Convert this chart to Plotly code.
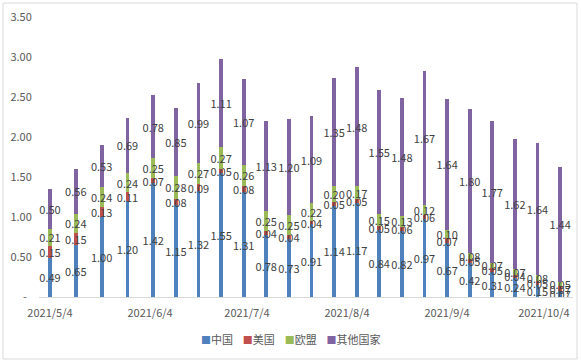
import plotly.graph_objects as go
from datetime import datetime, timedelta

dates = ["2021-05-04", "2021-05-12", "2021-05-20", "2021-05-28", "2021-06-05",
         "2021-06-12", "2021-06-19", "2021-06-26", "2021-07-03", "2021-07-10",
         "2021-07-17", "2021-07-24", "2021-07-31", "2021-08-07", "2021-08-14",
         "2021-08-21", "2021-08-28", "2021-09-04", "2021-09-11", "2021-09-18",
         "2021-09-25", "2021-10-02", "2021-10-09"]
china = [0.49, 0.65, 1.00, 1.20, 1.42, 1.15, 1.32, 1.55, 1.31, 0.78, 0.73, 0.91,
         1.14, 1.17, 0.84, 0.82, 0.97, 0.67, 0.42, 0.31, 0.24, 0.15, 0.07]
usa = [0.15, 0.15, 0.13, 0.11, 0.07, 0.08, 0.09, 0.05, 0.08, 0.04, 0.04, 0.04,
       0.05, 0.05, 0.05, 0.06, 0.06, 0.07, 0.05, 0.05, 0.04, 0.05, 0.07]
eu = [0.21, 0.24, 0.24, 0.24, 0.25, 0.28, 0.27, 0.27, 0.26, 0.25, 0.25, 0.22,
      0.20, 0.17, 0.15, 0.13, 0.12, 0.10, 0.08, 0.07, 0.07, 0.08, 0.05]
others = [0.50, 0.56, 0.53, 0.69, 0.78, 0.85, 0.99, 1.11, 1.07, 1.13, 1.20, 1.09,
          1.35, 1.48, 1.55, 1.48, 1.67, 1.64, 1.80, 1.77, 1.62, 1.64, 1.44]

series_names = ["中国", "美国", "欧盟", "其他国家"]
series_colors = ["#4F81BD", "#C0504D", "#9BBB59", "#8064A2"]

x_tick_vals = ["2021-05-04", "2021-06-04", "2021-07-04", "2021-08-04", "2021-09-04", "2021-10-04"]
x_tick_text = ["2021/5/4", "2021/6/4", "2021/7/4", "2021/8/4", "2021/9/4", "2021/10/4"]
y_tick_vals = [0, 0.5, 1.0, 1.5, 2.0, 2.5, 3.0, 3.5]
y_tick_text = ["-\u00a0\u00a0", "0.50", "1.00", "1.50", "2.00", "2.50", "3.00", "3.50"]

FONT = "Noto Sans CJK SC"
W, H = 581, 363
ML, MR, MT, MB = 39, 8, 17, 66
PW, PH = W - ML - MR, H - MT - MB

fig = go.Figure()
day_ms = 86400000
for name, vals, col in zip(series_names, [china, usa, eu, others], series_colors):
    fig.add_trace(go.Bar(
        x=dates, y=vals, name=name, marker=dict(color=col, line=dict(width=0)),
        width=1.2 * day_ms,
        text=[f"{v:.2f}" for v in vals], textposition="inside",
        insidetextanchor="middle", textangle=0,
        textfont=dict(family=FONT, size=11, color="#404040"),
        showlegend=False, hoverinfo="x+y+name",
    ))

start = datetime(2021, 5, 4)
x0 = start - timedelta(days=3.4)
x1 = start + timedelta(days=162.0)

fig.update_layout(
    barmode="stack",
    width=W, height=H,
    margin=dict(l=ML, r=MR, t=MT, b=MB, pad=0),
    paper_bgcolor="white", plot_bgcolor="white",
    font=dict(family=FONT, size=11, color="#595959"),
    uniformtext=dict(minsize=11, mode="show"),
    xaxis=dict(type="date", range=[x0.strftime("%Y-%m-%d %H:%M"), x1.strftime("%Y-%m-%d %H:%M")],
               tickvals=x_tick_vals, ticktext=x_tick_text,
               showgrid=False, showline=True, linecolor="#D9D9D9", linewidth=1,
               ticks="outside", ticklen=6, tickcolor="rgba(0,0,0,0)",
               tickfont=dict(family=FONT, size=11, color="#595959"), zeroline=False),
    yaxis=dict(range=[0, 3.5], tickvals=y_tick_vals, ticktext=y_tick_text,
               showgrid=False, showline=False, zeroline=False,
               ticks="outside", ticklen=4, tickcolor="rgba(0,0,0,0)",
               tickfont=dict(family=FONT, size=11, color="#595959")),
)

# legend drawn as a text row of coloured squares
parts = []
for name, col in zip(series_names, series_colors):
    parts.append(f"<span style='color:{col};font-size:10px'>■</span>{name}")
legend_text = "\u00a0\u00a0\u00a0\u00a0".join(parts)
fig.add_annotation(text=legend_text, xref="paper", yref="paper",
                   x=(291 - ML) / PW, y=(297 - 339) / PH,
                   xanchor="center", yanchor="middle", showarrow=False,
                   font=dict(family=FONT, size=11, color="#595959"))

# outer chart border
fig.add_shape(type="rect", xref="paper", yref="paper",
              x0=(3 - ML) / PW, x1=(577 - ML) / PW,
              y0=(297 - 359) / PH, y1=(297 - 3) / PH,
              line=dict(color="#D9D9D9", width=1), fillcolor="rgba(0,0,0,0)", layer="below")

fig.write_html("out.html", config={"displayModeBar": False},
               post_script="document.body.style.margin='0';")
